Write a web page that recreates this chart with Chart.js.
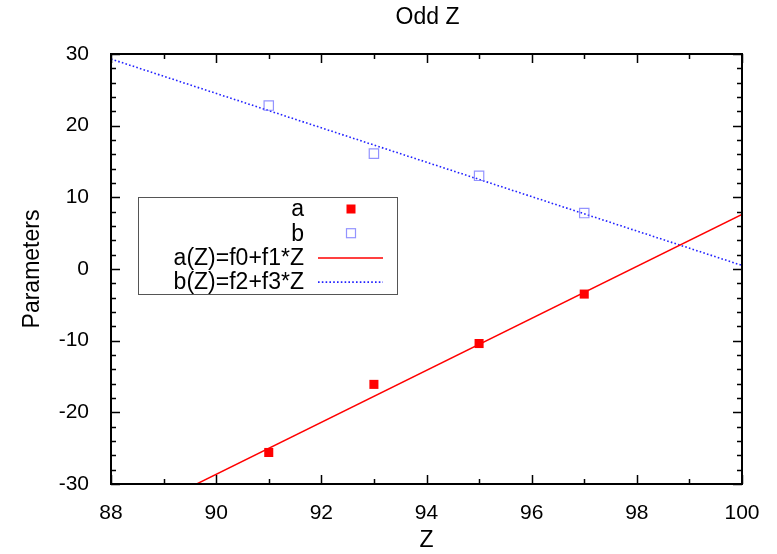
<!DOCTYPE html>
<html>
<head>
<meta charset="utf-8">
<script src="https://cdn.jsdelivr.net/npm/chart.js@4/dist/chart.umd.min.js"></script>
<style>
  html, body { margin: 0; padding: 0; background: #fff; }
  #wrap { width: 777px; height: 554px; }
</style>
</head>
<body>
<div id="wrap"><canvas id="chart"></canvas></div>
<script>
// data
var zValues = [91, 93, 95, 97];
var aValues = [-25.6, -16.1, -10.4, -3.5];
var bValues = [22.8, 16.1, 13.0, 7.8];

// fitted lines, ends at the plot edges
var fitZ = [88, 100];
var fitA = [-35.9, 7.6];
var fitB = [29.3, 0.5];

var xTicks = [88, 90, 92, 94, 96, 98, 100];
var yTicks = [-30, -20, -10, 0, 10, 20, 30];

var chartTitle = 'Odd Z';
var xTitle = 'Z';
var yTitle = 'Parameters';
var legendLabels = ['a', 'b', 'a(Z)=f0+f1*Z', 'b(Z)=f2+f3*Z'];

var FONT = '"Liberation Sans", Arial, sans-serif';

function pts(xs, ys) {
  return xs.map(function (x, i) { return { x: x, y: ys[i] }; });
}

// gnuplot-ish frame: border on four sides, ticks pointing inwards
const framePlugin = {
  id: 'frame',
  afterDatasetsDraw(chart) {
    const ctx = chart.ctx;
    const a = chart.chartArea;
    const xs = chart.scales.x, ys = chart.scales.y;
    ctx.save();
    ctx.strokeStyle = '#000';
    ctx.lineWidth = 2;
    ctx.strokeRect(a.left, a.top, a.right - a.left, a.bottom - a.top);
    ctx.lineWidth = 1.5;
    ctx.beginPath();
    for (let v = 88; v <= 100; v += 1) {
      const px = Math.round(xs.getPixelForValue(v)) + 0.5;
      const len = (v % 2 === 0) ? 9 : 5;
      ctx.moveTo(px, a.bottom); ctx.lineTo(px, a.bottom - len);
      ctx.moveTo(px, a.top); ctx.lineTo(px, a.top + len);
    }
    for (let v = -30; v <= 30; v += 2) {
      const py = Math.round(ys.getPixelForValue(v)) + 0.5;
      const len = (v % 10 === 0) ? 9 : 5;
      ctx.moveTo(a.left, py); ctx.lineTo(a.left + len, py);
      ctx.moveTo(a.right, py); ctx.lineTo(a.right - len, py);
    }
    ctx.stroke();

    // title
    ctx.fillStyle = '#000';
    ctx.font = '23px ' + FONT;
    ctx.textAlign = 'center';
    ctx.textBaseline = 'middle';
    ctx.fillText(chartTitle, (a.left + a.right) / 2 + 1, 18);
    ctx.restore();
  }
};

// legend box inside the plot: text right-aligned, sample on the right
const keyPlugin = {
  id: 'keybox',
  afterDraw(chart) {
    const ctx = chart.ctx;
    const bx = 138, by = 197, bw = 259, bh = 97;
    ctx.save();
    ctx.fillStyle = '#fff';
    ctx.fillRect(bx, by, bw, bh);
    ctx.strokeStyle = '#555';
    ctx.lineWidth = 1;
    ctx.strokeRect(bx + 0.5, by + 0.5, bw, bh);
    ctx.font = '23px ' + FONT;
    ctx.textAlign = 'right';
    ctx.textBaseline = 'middle';
    ctx.fillStyle = '#000';
    chart.data.datasets.forEach(function (ds, i) {
      const y = 209 + i * 24.2;
      ctx.fillText(ds.label, 304, y + 1);
      if (ds.showLine) {
        ctx.strokeStyle = ds.borderColor;
        ctx.lineWidth = ds.borderWidth;
        ctx.setLineDash(ds.borderDash || []);
        ctx.beginPath();
        ctx.moveTo(318, y + 0.5); ctx.lineTo(383, y + 0.5);
        ctx.stroke();
        ctx.setLineDash([]);
      } else {
        if (ds.pointBorderColor === ds.pointBackgroundColor) {
          ctx.fillStyle = ds.pointBackgroundColor;
          ctx.fillRect(346.5, y - 4.5, 9, 9);
        } else {
          ctx.strokeStyle = ds.pointBorderColor;
          ctx.lineWidth = 1.2;
          ctx.strokeRect(346.5, y - 4.5, 9, 9);
        }
        ctx.fillStyle = '#000';
      }
    });
    ctx.restore();
  }
};

new Chart(document.getElementById('chart'), {
  type: 'scatter',
  data: {
    datasets: [{
      label                : legendLabels[0],
      data                 : pts(zValues, aValues),
      pointStyle           : 'rect',
      pointRadius          : 6.4,
      pointBackgroundColor : '#ff0000',
      pointBorderColor     : '#ff0000',
      pointBorderWidth     : 0,
      showLine             : false,
    }, {
      label                : legendLabels[1],
      data                 : pts(zValues, bValues),
      pointStyle           : 'rect',
      pointRadius          : 6.6,
      pointBackgroundColor : 'rgba(0,0,0,0)',
      pointBorderColor     : 'rgba(120,120,255,0.8)',
      pointBorderWidth     : 1.2,
      showLine             : false,
    }, {
      label        : legendLabels[2],
      data         : pts(fitZ, fitA),
      showLine     : true,
      borderColor  : '#ff0000',
      borderWidth  : 1.5,
      pointRadius  : 0,
    }, {
      label        : legendLabels[3],
      data         : pts(fitZ, fitB),
      showLine     : true,
      borderColor  : '#2222ff',
      borderWidth  : 1.6,
      borderDash   : [1.6, 2.2],
      pointRadius  : 0,
    }],
  },
  options: {
    responsive: true,
    maintainAspectRatio: false,
    animation: false,
    layout: { padding: { top: 54, right: 35, left: 0, bottom: 0 } },
    plugins: {
      legend: { display: false },
      title: { display: false },
      tooltip: { enabled: false },
    },
    scales: {
      x: {
        type: 'linear',
        min: 88, max: 100,
        afterFit: function (s) { s.height = 70; },
        afterBuildTicks: function (s) { s.ticks = xTicks.map(function (v) { return { value: v }; }); },
        grid: { display: false },
        border: { display: false },
        ticks: { color: '#000', font: { family: FONT, size: 21 }, padding: 9, maxRotation: 0 },
        title: { display: true, text: xTitle, color: '#000', font: { family: FONT, size: 23 }, padding: { top: 6, bottom: 0 } },
      },
      y: {
        type: 'linear',
        min: -30, max: 30,
        afterFit: function (s) { s.width = 111; },
        afterBuildTicks: function (s) { s.ticks = yTicks.map(function (v) { return { value: v }; }); },
        grid: { display: false },
        border: { display: false },
        ticks: { color: '#000', font: { family: FONT, size: 21 }, padding: 14 },
        title: { display: true, text: yTitle, color: '#000', font: { family: FONT, size: 23 }, padding: { top: 19, bottom: 8 } },
      },
    },
  },
  plugins: [framePlugin, keyPlugin],
});
</script>
</body>
</html>
